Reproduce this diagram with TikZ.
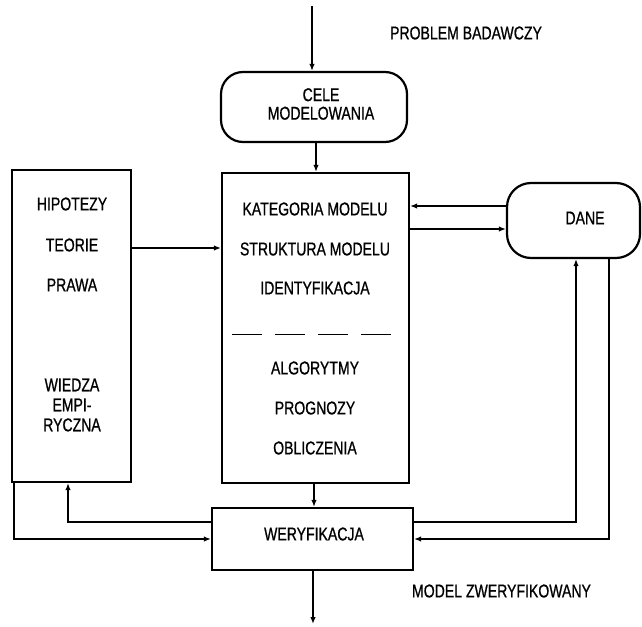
\documentclass[tikz,border=0pt]{standalone}
\usepackage{fontspec}
\setmainfont{Liberation Sans}[FakeStretch=0.76,FakeBold=0.8]
\usetikzlibrary{arrows.meta}
\begin{document}
\begin{tikzpicture}[x=1pt,y=-1pt,
  box/.style={draw, line width=2.2pt, inner sep=0pt},
  rbox/.style={box, rounded corners=22pt},
  lbl/.style={font=\fontsize{18.5}{20}\selectfont, inner sep=0pt, align=center},
  conn/.style={line width=1.9pt, -{Latex[length=7pt,width=5.5pt]}}
]
\useasboundingbox (0,0) rectangle (642,626);
% boxes
\node[rbox, minimum width=186pt, minimum height=70pt] (cele) at (314,107) {};
\node[box, minimum width=187pt, minimum height=310pt] (main) at (315.5,328) {};
\node[box, minimum width=119pt, minimum height=312pt] (left) at (71.5,326) {};
\node[rbox, rounded corners=24pt, minimum width=133pt, minimum height=75pt] (dane) at (573.5,220.5) {};
\node[box, minimum width=201pt, minimum height=62pt] (weryf) at (312.5,539) {};
% texts
\node[lbl, font=\fontsize{18.5}{18.5}\selectfont] (tcele) at (321,104) {CELE\\MODELOWANIA};
\node[lbl] (tprob) at (466,33) {PROBLEM BADAWCZY};
\node[lbl] (tdane) at (585,218) {DANE};
\node[lbl] (tweryf) at (314,534) {WERYFIKACJA};
\node[lbl] (tmodel) at (501.5,591) {MODEL ZWERYFIKOWANY};
\node[lbl] (thip) at (72,204) {HIPOTEZY};
\node[lbl] (tteo) at (72,245) {TEORIE};
\node[lbl] (tpra) at (72,285) {PRAWA};
\node[lbl] (twie) at (72,405) {WIEDZA\\EMPI-\\RYCZNA};
\node[lbl] (tkat) at (315,209) {KATEGORIA MODELU};
\node[lbl] (tstr) at (315,249) {STRUKTURA MODELU};
\node[lbl] (tide) at (315,288) {IDENTYFIKACJA};
\node[lbl] (talg) at (315,368) {ALGORYTMY};
\node[lbl] (tpro) at (315,408) {PROGNOZY};
\node[lbl] (tobl) at (315,448) {OBLICZENIA};
\draw[line width=1pt, dash pattern=on 30pt off 13pt] (232,334) -- (402,334);
% connectors
\coordinate (t0) at (312,6);
\draw[conn] (t0) -- (t0 |- cele.north);
\coordinate (xa) at (316,0);
\draw[conn] (cele.south -| xa) -- (main.north -| xa);
\coordinate (ya) at (0,248);
\draw[conn] (left.east |- ya) -- (main.west |- ya);
\coordinate (yb) at (0,206);
\draw[conn] (dane.west |- yb) -- (main.east |- yb);
\coordinate (yc) at (0,229);
\draw[conn] (main.east |- yc) -- (dane.west |- yc);
\coordinate (xm) at (314,0);
\draw[conn] (main.south -| xm) -- (weryf.north -| xm);
\coordinate (yd) at (0,522);
\coordinate (xd) at (68,0);
\draw[conn] (weryf.west |- yd) -| (left.south -| xd);
\coordinate (ye) at (0,539);
\coordinate (xe) at (14,0);
\draw[conn] (left.south -| xe) |- (weryf.west |- ye);
\coordinate (xf) at (576,0);
\draw[conn] (weryf.east |- yd) -| (dane.south -| xf);
\coordinate (xg) at (609,0);
\draw[conn] (dane.south -| xg) |- (weryf.east |- ye);
\coordinate (bot) at (313,624);
\draw[conn] (weryf.south -| bot) -- (bot);
\end{tikzpicture}
\end{document}
